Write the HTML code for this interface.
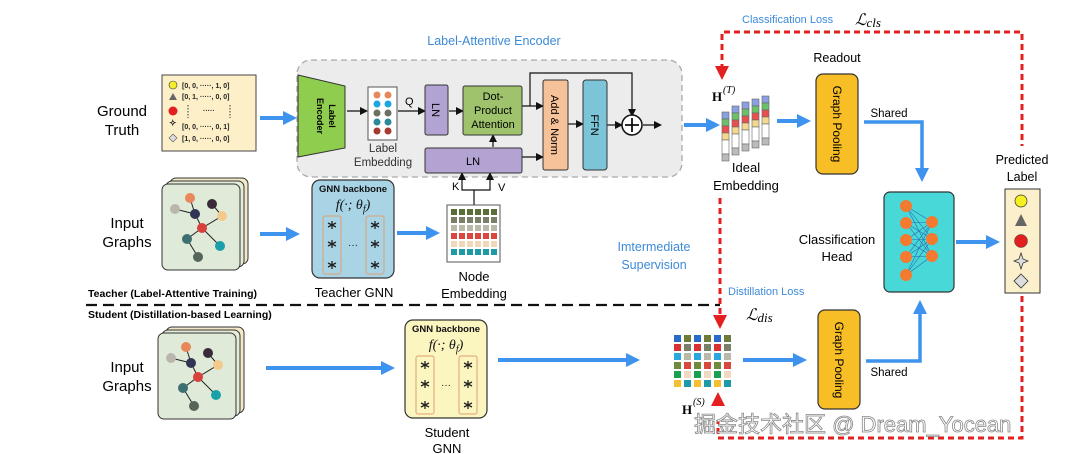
<!DOCTYPE html>
<html><head><meta charset="utf-8"><style>
html,body{margin:0;padding:0;background:#fff;}
svg{display:block;font-family:"Liberation Sans",Arial,sans-serif;}
</style></head><body>
<svg width="1074" height="454" viewBox="0 0 1074 454" xmlns="http://www.w3.org/2000/svg">
<defs>
<marker id="ab" markerWidth="8" markerHeight="8" refX="6" refY="4" orient="auto" markerUnits="userSpaceOnUse"><path d="M0,0 L8,4 L0,8 z" fill="#111"/></marker>
<g id="star"><path d="M0,-4 L0,4 M-4,-2 L4,2 M-4,2 L4,-2" stroke="#222" stroke-width="1.3"/></g>
<g id="graph">
<rect x="8" y="-6" width="78" height="86" rx="6" fill="#f3e8c8" stroke="#333"/>
<rect x="4" y="-3" width="78" height="86" rx="6" fill="#e6ecd8" stroke="#333"/>
<rect x="0" y="0" width="78" height="86" rx="6" fill="#dfead8" stroke="#333"/>
<g stroke="#222" stroke-width="1" fill="none">
<path d="M28,14 L33,30 L13,25 M33,30 L40,44 L60,32 L50,20 M40,44 L25,55 L36,73 M40,44 L58,62"/>
</g>
<circle cx="28" cy="14" r="5" fill="#e8875a"/><circle cx="13" cy="25" r="5" fill="#b9b7ad"/>
<circle cx="33" cy="30" r="5" fill="#2f3552"/><circle cx="50" cy="20" r="5" fill="#3a2a3a"/>
<circle cx="60" cy="32" r="5" fill="#f3c98e"/><circle cx="40" cy="44" r="5" fill="#d9413c"/>
<circle cx="25" cy="55" r="5" fill="#3e6f70"/><circle cx="58" cy="62" r="5" fill="#1aa0a8"/>
<circle cx="36" cy="73" r="5" fill="#55655a"/>
</g>
<g id="gnn">
<rect x="0" y="0" width="82" height="98" rx="8" stroke="#333" stroke-width="1.2"/>
<text x="41" y="12" font-size="9.5" font-weight="bold" text-anchor="middle" fill="#111">GNN backbone</text>
<text x="41" y="29" font-size="14" font-style="italic" font-family="Liberation Serif,serif" text-anchor="middle" fill="#111">f(·; θ<tspan font-size="10" dy="3">f</tspan><tspan dy="-3">)</tspan></text>
<rect x="11" y="36" width="18" height="58" rx="2" fill="none" stroke="#e0a070"/>
<rect x="54" y="36" width="18" height="58" rx="2" fill="none" stroke="#e0a070"/>
<use href="#star" x="20" y="45"/><use href="#star" x="20" y="64"/><use href="#star" x="20" y="85"/>
<use href="#star" x="63" y="45"/><use href="#star" x="63" y="64"/><use href="#star" x="63" y="85"/>
<text x="41" y="68" font-size="10" text-anchor="middle" fill="#111">···</text>
</g>
</defs>

<!-- Ground truth -->
<text x="122" y="116" font-size="15" text-anchor="middle">Ground</text>
<text x="122" y="135" font-size="15" text-anchor="middle">Truth</text>
<rect x="162" y="75" width="94" height="76" fill="#fdf0c8" stroke="#444"/>
<g font-size="7" font-weight="bold" fill="#222">
<circle cx="173" cy="85" r="4" fill="#f5ee2a" stroke="#333" stroke-width=".6"/><text x="182" y="88">[0, 0, ·····, 1, 0]</text>
<path d="M169,100 L173,93 L177,100 z" fill="#666"/><text x="182" y="99">[0, 1, ·····, 0, 0]</text>
<circle cx="173" cy="111" r="4.5" fill="#e21f1f"/><text x="203" y="113">·····</text>
<path d="M188,105 L188,118 M230,105 L230,118" stroke="#333" stroke-dasharray="1.5,1.5"/>
<text x="169" y="126" font-size="9">✧</text><text x="182" y="129">[0, 0, ·····, 0, 1]</text>
<path d="M173,134 L177,138 L173,142 L169,138 z" fill="#ddd" stroke="#555" stroke-width=".6"/><text x="182" y="141">[1, 0, ·····, 0, 0]</text>
</g>
<path d="M260,118 L285,118" stroke="#3d93ee" stroke-width="4"/><path d="M283,111 L297,118 L283,125 z" fill="#3d93ee"/>

<!-- encoder -->
<text x="494" y="45" font-size="12.5" fill="#3d8ad8" text-anchor="middle">Label-Attentive Encoder</text>
<rect x="297" y="60" width="385" height="117" rx="14" fill="#ececec" stroke="#aaa" stroke-dasharray="6,4" stroke-width="1.3"/>
<path d="M298,75 L345,86 L345,148 L298,157 z" fill="#8fcd4e" stroke="#333"/>
<text transform="translate(329,116) rotate(90)" font-size="9" font-weight="bold" text-anchor="middle">Label</text>
<text transform="translate(317,116) rotate(90)" font-size="9" font-weight="bold" text-anchor="middle">Encoder</text>
<rect x="368" y="87" width="29" height="53" fill="#fff" stroke="#555"/>
<g><circle cx="377" cy="95" r="3.5" fill="#e8875a"/><circle cx="388" cy="95" r="3.5" fill="#e8875a"/>
<circle cx="377" cy="104" r="3.5" fill="#1aa6e0"/><circle cx="388" cy="104" r="3.5" fill="#1aa6e0"/>
<circle cx="377" cy="113" r="3.5" fill="#6b7060"/><circle cx="388" cy="113" r="3.5" fill="#6b7060"/>
<circle cx="377" cy="122" r="3.5" fill="#2a8a9a"/><circle cx="388" cy="122" r="3.5" fill="#2a8a9a"/>
<circle cx="377" cy="131" r="3.5" fill="#a53a30"/><circle cx="388" cy="131" r="3.5" fill="#a53a30"/></g>
<text x="383" y="152" font-size="11.5" text-anchor="middle" fill="#333">Label</text>
<text x="383" y="166" font-size="11.5" text-anchor="middle" fill="#333">Embedding</text>
<g stroke="#111" stroke-width="1.2" fill="none">
<path d="M347,111 L366,111" marker-end="url(#ab)"/>
<path d="M398,111 L424,111" marker-end="url(#ab)"/>
<path d="M449,111 L462,111" marker-end="url(#ab)"/>
<path d="M493,147 L493,136" marker-end="url(#ab)"/>
<path d="M522,157 L542,157" marker-end="url(#ab)"/>
<path d="M522,106 L542,106" marker-end="url(#ab)"/>
<path d="M530,106 L530,73 L632,73 L632,115" marker-end="url(#ab)"/>
<path d="M568,124 L582,124" marker-end="url(#ab)"/>
<path d="M607,125 L621,125" marker-end="url(#ab)"/>
<path d="M643,125 L660,125" marker-end="url(#ab)"/>
<path d="M474,205 L474,190 L462,190 L462,174" marker-end="url(#ab)"/>
<path d="M474,190 L490,190 L490,174" marker-end="url(#ab)"/>
</g>
<text x="405" y="105" font-size="11">Q</text>
<text x="452" y="190" font-size="11">K</text><text x="498" y="191" font-size="11">V</text>
<rect x="425" y="85" width="23" height="50" rx="2" fill="#b2a3d2" stroke="#333"/>
<text transform="translate(436,110) rotate(90)" font-size="11" text-anchor="middle" dy="4">LN</text>
<rect x="463" y="86" width="59" height="49" rx="2" fill="#9fc36c" stroke="#333"/>
<text x="493" y="100" font-size="11" text-anchor="middle">Dot-</text>
<text x="493" y="114" font-size="11" text-anchor="middle">Product</text>
<text x="493" y="128" font-size="11" text-anchor="middle">Attention</text>
<rect x="425" y="148" width="97" height="25" rx="2" fill="#b2a3d2" stroke="#333"/>
<text x="473" y="165" font-size="11" text-anchor="middle">LN</text>
<rect x="543" y="80" width="25" height="90" rx="2" fill="#f6c29a" stroke="#333"/>
<text transform="translate(555,125) rotate(90)" font-size="11" text-anchor="middle" dy="4">Add &amp; Norm</text>
<rect x="583" y="80" width="24" height="90" rx="3" fill="#7cc5d8" stroke="#333"/>
<text transform="translate(595,125) rotate(90)" font-size="11" text-anchor="middle" dy="4">FFN</text>
<circle cx="632" cy="125" r="10" fill="#fff" stroke="#111" stroke-width="1.5"/>
<path d="M625,125 L639,125 M632,118 L632,132" stroke="#111" stroke-width="1.8"/>
<path d="M684,125 L708,125" stroke="#3d93ee" stroke-width="4"/><path d="M706,118 L720,125 L706,132 z" fill="#3d93ee"/>

<!-- teacher row -->
<text x="127" y="228" font-size="15" text-anchor="middle">Input</text>
<text x="127" y="247" font-size="15" text-anchor="middle">Graphs</text>
<use href="#graph" x="162" y="184"/>
<path d="M260,234 L288,234" stroke="#3d93ee" stroke-width="4"/><path d="M286,227 L300,234 L286,241 z" fill="#3d93ee"/>
<use href="#gnn" x="312" y="180" fill="#a8d4e6"/>
<text x="354" y="297" font-size="13" text-anchor="middle">Teacher GNN</text>
<path d="M397,233 L428,233" stroke="#3d93ee" stroke-width="4"/><path d="M426,226 L440,233 L426,240 z" fill="#3d93ee"/>
<rect x="447" y="205" width="53" height="57" fill="#fff" stroke="#555"/>
<g>
<g fill="#5a6e3a"><rect x="451" y="209" width="6" height="6"/><rect x="459" y="209" width="6" height="6"/><rect x="467" y="209" width="6" height="6"/><rect x="475" y="209" width="6" height="6"/><rect x="483" y="209" width="6" height="6"/><rect x="491" y="209" width="6" height="6"/></g>
<g fill="#7a7f6a"><rect x="451" y="217" width="6" height="6"/><rect x="459" y="217" width="6" height="6"/><rect x="467" y="217" width="6" height="6"/><rect x="475" y="217" width="6" height="6"/><rect x="483" y="217" width="6" height="6"/><rect x="491" y="217" width="6" height="6"/></g>
<g fill="#b8b9a8"><rect x="451" y="225" width="6" height="6"/><rect x="459" y="225" width="6" height="6"/><rect x="467" y="225" width="6" height="6"/><rect x="475" y="225" width="6" height="6"/><rect x="483" y="225" width="6" height="6"/><rect x="491" y="225" width="6" height="6"/></g>
<g fill="#d9483e"><rect x="451" y="233" width="6" height="6"/><rect x="459" y="233" width="6" height="6"/><rect x="467" y="233" width="6" height="6"/><rect x="475" y="233" width="6" height="6"/><rect x="483" y="233" width="6" height="6"/><rect x="491" y="233" width="6" height="6"/></g>
<g fill="#f1d8b8"><rect x="451" y="241" width="6" height="6"/><rect x="459" y="241" width="6" height="6"/><rect x="467" y="241" width="6" height="6"/><rect x="475" y="241" width="6" height="6"/><rect x="483" y="241" width="6" height="6"/><rect x="491" y="241" width="6" height="6"/></g>
<g fill="#1e9aa6"><rect x="451" y="249" width="6" height="6"/><rect x="459" y="249" width="6" height="6"/><rect x="467" y="249" width="6" height="6"/><rect x="475" y="249" width="6" height="6"/><rect x="483" y="249" width="6" height="6"/><rect x="491" y="249" width="6" height="6"/></g>
</g>
<text x="474" y="281" font-size="13" text-anchor="middle">Node</text>
<text x="474" y="298" font-size="13" text-anchor="middle">Embedding</text>

<text x="88" y="297" font-size="10.5" font-weight="bold">Teacher (Label-Attentive Training)</text>
<path d="M86,305 L720,305" stroke="#111" stroke-width="2.2" stroke-dasharray="11,6"/>
<text x="88" y="318" font-size="10.5" font-weight="bold">Student (Distillation-based Learning)</text>

<!-- student row -->
<text x="127" y="372" font-size="15" text-anchor="middle">Input</text>
<text x="127" y="391" font-size="15" text-anchor="middle">Graphs</text>
<use href="#graph" x="158" y="333"/>
<path d="M266,368 L383,368" stroke="#3d93ee" stroke-width="4"/><path d="M381,361 L395,368 L381,375 z" fill="#3d93ee"/>
<use href="#gnn" x="405" y="320" fill="#fbf5c0"/>
<text x="447" y="437" font-size="13" text-anchor="middle">Student</text>
<text x="447" y="453" font-size="13" text-anchor="middle">GNN</text>
<path d="M498,360 L628,360" stroke="#3d93ee" stroke-width="4"/><path d="M626,353 L640,360 L626,367 z" fill="#3d93ee"/>

<!-- student embedding grid -->
<g>
<g fill="#2a6ac8"><rect x="674" y="335" width="7" height="7"/><rect x="694" y="335" width="7" height="7"/><rect x="714" y="335" width="7" height="7"/></g>
<g fill="#6e7a3a"><rect x="684" y="335" width="7" height="7"/><rect x="704" y="335" width="7" height="7"/><rect x="724" y="335" width="7" height="7"/></g>
<g fill="#d93030"><rect x="674" y="344" width="7" height="7"/><rect x="694" y="344" width="7" height="7"/><rect x="714" y="344" width="7" height="7"/></g>
<g fill="#7a7f6a"><rect x="684" y="344" width="7" height="7"/><rect x="704" y="344" width="7" height="7"/><rect x="724" y="344" width="7" height="7"/></g>
<g fill="#2aa6e0"><rect x="674" y="353" width="7" height="7"/><rect x="694" y="353" width="7" height="7"/><rect x="714" y="353" width="7" height="7"/></g>
<g fill="#b8b9a8"><rect x="684" y="353" width="7" height="7"/><rect x="704" y="353" width="7" height="7"/><rect x="724" y="353" width="7" height="7"/></g>
<g fill="#6e8a3a"><rect x="674" y="362" width="7" height="7"/><rect x="694" y="362" width="7" height="7"/><rect x="714" y="362" width="7" height="7"/></g>
<g fill="#d9483e"><rect x="684" y="362" width="7" height="7"/><rect x="704" y="362" width="7" height="7"/><rect x="724" y="362" width="7" height="7"/></g>
<g fill="#1aa050"><rect x="674" y="371" width="7" height="7"/><rect x="694" y="371" width="7" height="7"/><rect x="714" y="371" width="7" height="7"/></g>
<g fill="#f1d8c0"><rect x="684" y="371" width="7" height="7"/><rect x="704" y="371" width="7" height="7"/><rect x="724" y="371" width="7" height="7"/></g>
<g fill="#f5c030"><rect x="674" y="380" width="7" height="7"/><rect x="694" y="380" width="7" height="7"/><rect x="714" y="380" width="7" height="7"/></g>
<g fill="#1e9aa6"><rect x="684" y="380" width="7" height="7"/><rect x="704" y="380" width="7" height="7"/><rect x="724" y="380" width="7" height="7"/></g>
</g>
<text x="682" y="414" font-size="13" font-weight="bold" font-family="Liberation Serif,serif">H</text>
<text x="693" y="405" font-size="10" font-style="italic" font-family="Liberation Serif,serif">(S)</text>

<!-- ideal embedding -->
<text x="712" y="101" font-size="13" font-weight="bold" font-family="Liberation Serif,serif">H</text>
<text x="723" y="93" font-size="10" font-style="italic" font-family="Liberation Serif,serif">(T)</text>
<g stroke="#666" stroke-width=".6">
<g transform="translate(722,112)"><rect width="7" height="7" fill="#8aa0e0"/><rect y="7" width="7" height="7" fill="#6cc06a"/><rect y="14" width="7" height="7" fill="#e85050"/><rect y="21" width="7" height="7" fill="#f5d890"/><rect y="28" width="7" height="14" fill="#fff"/><rect y="42" width="7" height="7" fill="#bbb"/></g>
<g transform="translate(732,106)"><rect width="7" height="7" fill="#8aa0e0"/><rect y="7" width="7" height="7" fill="#6cc06a"/><rect y="14" width="7" height="7" fill="#e85050"/><rect y="21" width="7" height="7" fill="#f5d890"/><rect y="28" width="7" height="14" fill="#fff"/><rect y="42" width="7" height="7" fill="#bbb"/></g>
<g transform="translate(742,102)"><rect width="7" height="7" fill="#8aa0e0"/><rect y="7" width="7" height="7" fill="#6cc06a"/><rect y="14" width="7" height="7" fill="#e85050"/><rect y="21" width="7" height="7" fill="#f5d890"/><rect y="28" width="7" height="14" fill="#fff"/><rect y="42" width="7" height="7" fill="#bbb"/></g>
<g transform="translate(752,99)"><rect width="7" height="7" fill="#8aa0e0"/><rect y="7" width="7" height="7" fill="#6cc06a"/><rect y="14" width="7" height="7" fill="#e85050"/><rect y="21" width="7" height="7" fill="#f5d890"/><rect y="28" width="7" height="14" fill="#fff"/><rect y="42" width="7" height="7" fill="#bbb"/></g>
<g transform="translate(762,96)"><rect width="7" height="7" fill="#8aa0e0"/><rect y="7" width="7" height="7" fill="#6cc06a"/><rect y="14" width="7" height="7" fill="#e85050"/><rect y="21" width="7" height="7" fill="#f5d890"/><rect y="28" width="7" height="14" fill="#fff"/><rect y="42" width="7" height="7" fill="#bbb"/></g>
</g>
<text x="746" y="172" font-size="13" text-anchor="middle">Ideal</text>
<text x="746" y="190" font-size="13" text-anchor="middle">Embedding</text>

<!-- pooling -->
<text x="837" y="62" font-size="12.5" text-anchor="middle">Readout</text>
<path d="M777,121 L799,121" stroke="#3d93ee" stroke-width="4"/><path d="M797,114 L811,121 L797,128 z" fill="#3d93ee"/>
<rect x="816" y="74" width="42" height="100" rx="7" fill="#f8be25" stroke="#333" stroke-width="1.2"/>
<text transform="translate(837,124) rotate(90)" font-size="12" text-anchor="middle" dy="4">Graph Pooling</text>
<text x="889" y="117" font-size="11.5" text-anchor="middle">Shared</text>
<path d="M864,122 L922,122 L922,170" stroke="#3d93ee" stroke-width="3.5" fill="none"/><path d="M915,168 L922,182 L929,168 z" fill="#3d93ee"/>

<path d="M743,360 L795,360" stroke="#3d93ee" stroke-width="4"/><path d="M793,353 L807,360 L793,367 z" fill="#3d93ee"/>
<rect x="818" y="310" width="42" height="99" rx="7" fill="#f8be25" stroke="#333" stroke-width="1.2"/>
<text transform="translate(839,360) rotate(90)" font-size="12" text-anchor="middle" dy="4">Graph Pooling</text>
<text x="889" y="376" font-size="11.5" text-anchor="middle">Shared</text>
<path d="M866,361 L920,361 L920,312" stroke="#3d93ee" stroke-width="3.5" fill="none"/><path d="M913,314 L920,300 L927,314 z" fill="#3d93ee"/>

<!-- classification head -->
<text x="837" y="244" font-size="13" text-anchor="middle">Classification</text>
<text x="837" y="261" font-size="13" text-anchor="middle">Head</text>
<rect x="884" y="192" width="70" height="100" rx="6" fill="#48d8d8" stroke="#333" stroke-width="1.2"/>
<g stroke="#2a6ab0" stroke-width=".6">
<path d="M906,206 L932,222 M906,206 L932,239 M906,206 L932,256 M906,223 L932,222 M906,223 L932,239 M906,223 L932,256 M906,240 L932,222 M906,240 L932,239 M906,240 L932,256 M906,257 L932,222 M906,257 L932,239 M906,257 L932,256 M906,275 L932,222 M906,275 L932,239 M906,275 L932,256"/>
</g>
<g fill="#f47a30"><circle cx="906" cy="206" r="6"/><circle cx="906" cy="223" r="6"/><circle cx="906" cy="240" r="6"/><circle cx="906" cy="257" r="6"/><circle cx="906" cy="275" r="6"/>
<circle cx="932" cy="222" r="6"/><circle cx="932" cy="239" r="6"/><circle cx="932" cy="256" r="6"/></g>
<path d="M956,242 L988,242" stroke="#3d93ee" stroke-width="4"/><path d="M986,235 L1000,242 L986,249 z" fill="#3d93ee"/>

<!-- predicted label -->
<text x="1022" y="164" font-size="12.5" text-anchor="middle">Predicted</text>
<text x="1022" y="181" font-size="12.5" text-anchor="middle">Label</text>
<rect x="1005" y="189" width="35" height="104" fill="#fcf0cc" stroke="#333"/>
<circle cx="1021" cy="201" r="6" fill="#f5f020" stroke="#333" stroke-width=".7"/>
<path d="M1015,226 L1021,214 L1027,226 z" fill="#666"/>
<circle cx="1021" cy="241" r="6.5" fill="#e21f1f" stroke="#333" stroke-width=".5"/>
<path d="M1021,253 L1023,259 L1028,261 L1023,263 L1021,269 L1019,263 L1014,261 L1019,259 z" fill="#ddd" stroke="#333" stroke-width=".8"/>
<path d="M1021,274 L1028,281 L1021,288 L1014,281 z" fill="#ddd" stroke="#333" stroke-width=".8"/>

<!-- red dashed -->
<g stroke="#e3201f" stroke-width="3" stroke-dasharray="6,4" fill="none">
<path d="M722,70 L722,32 L1022,32 L1022,146"/>
<path d="M1022,296 L1022,438 L718,438 L718,420"/>
<path d="M720,198 L720,318"/>
</g>
<path d="M715,66 L722,80 L729,66 z" fill="#e3201f"/>
<path d="M713,315 L720,329 L727,315 z" fill="#e3201f"/>
<path d="M711,406 L718,392 L725,406 z" fill="#e3201f"/>

<text x="742" y="23" font-size="11" fill="#3d8ad8">Classification Loss</text>
<text x="855" y="25" font-size="16" font-style="italic" font-family="Liberation Serif,serif">ℒ<tspan font-size="13" dy="2">cls</tspan></text>
<text x="728" y="295" font-size="11" fill="#3d8ad8">Distillation Loss</text>
<text x="746" y="320" font-size="16" font-style="italic" font-family="Liberation Serif,serif">ℒ<tspan font-size="13" dy="2">dis</tspan></text>
<text x="654" y="251" font-size="12.5" fill="#3d8ad8" text-anchor="middle">Imtermediate</text>
<text x="654" y="269" font-size="12.5" fill="#3d8ad8" text-anchor="middle">Supervision</text>

<!-- watermark -->
<text x="694" y="432" font-size="22" fill="#fff" stroke="#888" stroke-width=".8" font-family="Liberation Sans,'Noto Sans CJK SC',sans-serif">掘金技术社区 @ Dream_Yocean</text>
</svg>
</body></html>
